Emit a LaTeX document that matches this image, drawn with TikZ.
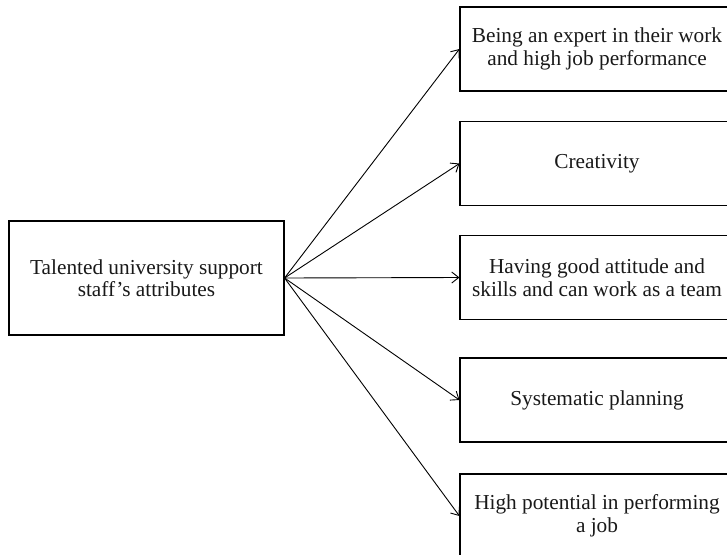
\documentclass[tikz,border=0pt]{standalone}
\usepackage{fontspec}
\setmainfont{Liberation Serif}
\usetikzlibrary{arrows.meta}
\begin{document}
\begin{tikzpicture}[x=1pt,y=-1pt,
  box/.style={draw=black, line width=1.1pt, align=center, inner sep=0pt,
    font=\fontsize{21.3}{22.5}\selectfont, text=black!90},
  lbox/.style={box, minimum width=275pt, minimum height=114pt},
  rbox/.style={box, minimum width=274pt, minimum height=84pt},
  link/.style={draw=black, line width=0.9pt, -{Straight Barb[length=7pt,width=11pt]}}]
\useasboundingbox (0,0) rectangle (727,554);
\node[lbox] (L) at (146.5,278) {Talented university support\\staff’s attributes};
\node[rbox] (B1) at (597,49) {Being an expert in their work\\and high job performance};
\node[rbox] (B2) at (597,163.5) {Creativity};
\node[rbox] (B3) at (597,277.5) {Having good attitude and\\skills and can work as a team};
\node[rbox] (B4) at (597,400) {Systematic planning};
\node[rbox] (B5) at (597,516) {High potential in performing\\a job};
\foreach \b in {B1,B2,B3,B4,B5}
  \draw[link] (L.east) -- (\b.west);
\end{tikzpicture}
\end{document}
